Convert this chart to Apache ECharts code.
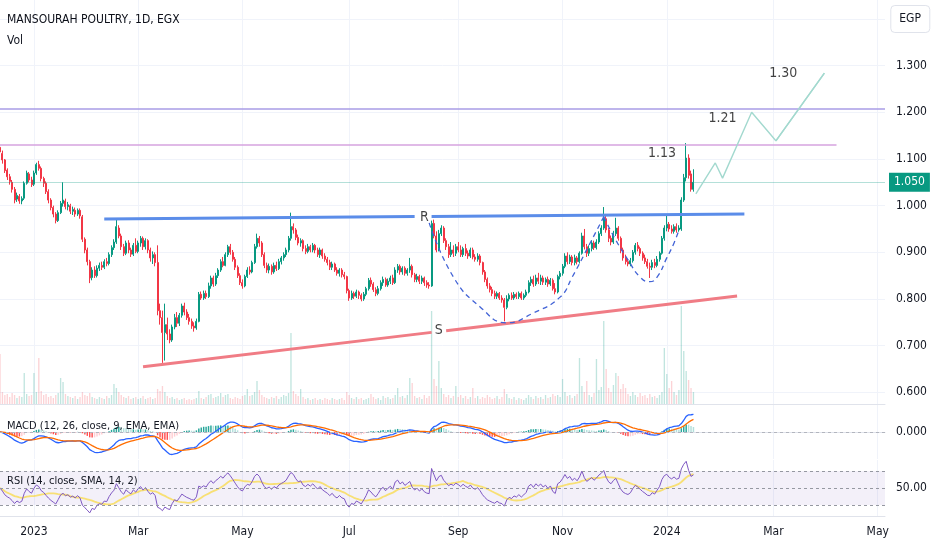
<!DOCTYPE html>
<html><head><meta charset="utf-8">
<script src="https://cdn.jsdelivr.net/npm/echarts@6/dist/echarts.min.js"></script>
<style>html,body{margin:0;padding:0;background:#fff}#c{width:932px;height:550px}</style>
</head><body><div id="c"></div>
<script>
const FONT = "'DejaVu Sans Condensed','Liberation Sans Narrow','Liberation Sans',sans-serif";
const TXT = '#131722';
// trading-day slots (Sun-Thu) starting here
const startDate = '2022-12-12';
const totalSlots = 366;
const labelMonths = [1, 3, 5, 7, 9, 11];
const monthNames = ['Jan','Feb','Mar','Apr','May','Jun','Jul','Aug','Sep','Oct','Nov','Dec'];
const priceMin = 0.6, priceMax = 1.4, priceStep = 0.1;

// daily candles: [open, close, low, high]
const ohlc = [
[1.125,1.115,1.105,1.132],[1.112,1.098,1.090,1.118],[1.098,1.075,1.070,1.100],[1.076,1.062,1.055,1.080],[1.062,1.052,1.045,1.068],
[1.050,1.035,1.028,1.055],[1.035,1.012,1.005,1.040],[1.014,1.022,1.008,1.028],[1.020,1.010,1.004,1.025],[1.010,1.015,1.003,1.020],
[1.016,1.048,1.012,1.052],[1.048,1.070,1.045,1.075],[1.068,1.055,1.050,1.072],[1.055,1.045,1.040,1.062],[1.046,1.070,1.042,1.075],
[1.070,1.088,1.066,1.092],[1.088,1.080,1.075,1.096],[1.080,1.058,1.052,1.084],[1.058,1.048,1.040,1.062],[1.048,1.030,1.025,1.052],
[1.030,1.012,1.005,1.035],[1.012,0.996,0.990,1.016],[0.996,0.982,0.975,1.000],[0.982,0.968,0.962,0.986],[0.968,0.985,0.965,0.990],
[0.985,1.005,0.982,1.010],[1.005,1.012,0.998,1.050],[1.010,0.998,0.992,1.015],[0.998,1.002,0.990,1.008],[1.000,0.988,0.982,1.004],
[0.988,0.992,0.980,0.998],[0.990,0.982,0.976,0.996],[0.982,0.990,0.978,0.994],[0.990,0.978,0.972,0.994],[0.976,0.928,0.922,0.980],
[0.928,0.905,0.898,0.932],[0.905,0.880,0.872,0.910],[0.880,0.845,0.834,0.884],[0.846,0.862,0.840,0.868],[0.862,0.850,0.845,0.870],
[0.850,0.866,0.846,0.872],[0.866,0.872,0.860,0.878],[0.872,0.868,0.862,0.880],[0.868,0.880,0.864,0.885],[0.880,0.876,0.870,0.888],
[0.876,0.895,0.872,0.900],[0.895,0.910,0.890,0.915],[0.910,0.922,0.905,0.928],[0.922,0.955,0.918,0.973],[0.952,0.935,0.930,0.958],
[0.935,0.912,0.905,0.940],[0.912,0.898,0.892,0.918],[0.898,0.920,0.894,0.925],[0.920,0.905,0.898,0.926],[0.905,0.896,0.890,0.910],
[0.896,0.915,0.892,0.920],[0.915,0.902,0.898,0.930],[0.902,0.920,0.898,0.925],[0.920,0.930,0.912,0.935],[0.930,0.912,0.905,0.934],
[0.912,0.925,0.906,0.930],[0.925,0.905,0.898,0.928],[0.905,0.888,0.880,0.910],[0.888,0.895,0.875,0.902],[0.895,0.878,0.870,0.900],
[0.878,0.775,0.765,0.915],[0.775,0.760,0.745,0.790],[0.760,0.728,0.663,0.775],[0.728,0.745,0.668,0.790],[0.745,0.725,0.712,0.760],
[0.725,0.712,0.705,0.735],[0.712,0.740,0.708,0.745],[0.740,0.760,0.735,0.768],[0.760,0.748,0.740,0.772],[0.748,0.765,0.742,0.770],
[0.765,0.785,0.760,0.790],[0.785,0.772,0.765,0.792],[0.772,0.760,0.755,0.778],[0.760,0.752,0.745,0.768],[0.752,0.742,0.736,0.758],
[0.742,0.738,0.730,0.750],[0.738,0.752,0.734,0.758],[0.752,0.810,0.750,0.815],[0.810,0.802,0.798,0.816],[0.802,0.812,0.798,0.818],
[0.812,0.805,0.800,0.818],[0.805,0.828,0.802,0.835],[0.828,0.845,0.822,0.850],[0.845,0.832,0.826,0.850],[0.832,0.850,0.828,0.856],
[0.850,0.862,0.845,0.866],[0.862,0.880,0.858,0.885],[0.880,0.872,0.868,0.890],[0.872,0.895,0.870,0.900],[0.895,0.912,0.890,0.916],
[0.912,0.900,0.895,0.918],[0.900,0.885,0.880,0.905],[0.885,0.868,0.862,0.890],[0.868,0.850,0.845,0.872],[0.850,0.835,0.830,0.855],
[0.835,0.828,0.822,0.842],[0.828,0.848,0.825,0.852],[0.848,0.862,0.845,0.868],[0.862,0.858,0.852,0.870],[0.858,0.878,0.855,0.882],
[0.878,0.912,0.875,0.918],[0.912,0.930,0.908,0.940],[0.930,0.920,0.912,0.935],[0.920,0.895,0.890,0.924],[0.895,0.872,0.866,0.900],
[0.872,0.862,0.856,0.878],[0.862,0.870,0.855,0.876],[0.870,0.858,0.852,0.874],[0.858,0.872,0.854,0.878],[0.872,0.865,0.860,0.880],
[0.865,0.880,0.862,0.886],[0.880,0.888,0.874,0.892],[0.888,0.895,0.882,0.900],[0.895,0.905,0.890,0.910],[0.905,0.930,0.900,0.935],
[0.930,0.955,0.925,0.985],[0.955,0.948,0.940,0.962],[0.948,0.932,0.926,0.952],[0.932,0.920,0.915,0.938],[0.920,0.925,0.912,0.930],
[0.925,0.908,0.902,0.928],[0.908,0.902,0.896,0.915],[0.902,0.912,0.898,0.918],[0.912,0.905,0.900,0.916],[0.905,0.915,0.900,0.920],
[0.915,0.905,0.898,0.918],[0.905,0.895,0.890,0.910],[0.895,0.905,0.888,0.910],[0.905,0.892,0.886,0.908],[0.892,0.885,0.880,0.898],
[0.885,0.878,0.872,0.890],[0.878,0.868,0.862,0.884],[0.868,0.875,0.862,0.880],[0.875,0.862,0.858,0.878],[0.862,0.855,0.850,0.868],
[0.855,0.862,0.848,0.866],[0.862,0.852,0.846,0.866],[0.852,0.848,0.842,0.858],[0.848,0.818,0.812,0.850],[0.818,0.802,0.796,0.822],
[0.802,0.812,0.798,0.818],[0.812,0.806,0.800,0.816],[0.806,0.815,0.802,0.820],[0.815,0.808,0.800,0.818],[0.808,0.800,0.795,0.812],
[0.800,0.810,0.796,0.815],[0.810,0.822,0.806,0.826],[0.822,0.840,0.818,0.845],[0.840,0.832,0.826,0.846],[0.832,0.820,0.815,0.836],
[0.820,0.812,0.806,0.825],[0.812,0.822,0.808,0.828],[0.822,0.835,0.818,0.840],[0.835,0.842,0.828,0.848],[0.842,0.830,0.826,0.846],
[0.830,0.838,0.826,0.844],[0.838,0.845,0.832,0.850],[0.845,0.835,0.830,0.852],[0.835,0.862,0.832,0.868],[0.862,0.870,0.856,0.875],
[0.870,0.858,0.852,0.874],[0.858,0.866,0.852,0.870],[0.866,0.855,0.850,0.870],[0.855,0.862,0.850,0.866],[0.862,0.870,0.856,0.888],
[0.870,0.852,0.846,0.874],[0.852,0.842,0.836,0.856],[0.842,0.848,0.836,0.854],[0.848,0.838,0.832,0.852],[0.838,0.845,0.832,0.850],
[0.845,0.835,0.828,0.848],[0.835,0.830,0.824,0.840],[0.830,0.828,0.822,0.836],[0.828,0.962,0.826,0.968],[0.962,0.935,0.930,0.970],
[0.935,0.905,0.900,0.945],[0.905,0.940,0.902,0.948],[0.940,0.952,0.935,0.958],[0.952,0.925,0.920,0.956],[0.925,0.912,0.905,0.930],
[0.912,0.895,0.888,0.918],[0.895,0.905,0.890,0.922],[0.905,0.898,0.890,0.915],[0.898,0.912,0.892,0.918],[0.912,0.905,0.900,0.922],
[0.905,0.895,0.890,0.915],[0.895,0.908,0.890,0.912],[0.908,0.898,0.892,0.918],[0.898,0.892,0.886,0.904],[0.892,0.905,0.888,0.910],
[0.905,0.890,0.885,0.910],[0.890,0.885,0.880,0.896],[0.885,0.892,0.880,0.898],[0.892,0.878,0.872,0.896],[0.878,0.858,0.852,0.880],
[0.858,0.842,0.836,0.862],[0.842,0.828,0.822,0.846],[0.828,0.820,0.814,0.834],[0.820,0.812,0.806,0.826],[0.812,0.806,0.800,0.818],
[0.806,0.812,0.800,0.816],[0.812,0.802,0.798,0.815],[0.802,0.798,0.792,0.808],[0.798,0.782,0.752,0.802],[0.782,0.800,0.778,0.808],
[0.800,0.808,0.795,0.812],[0.808,0.802,0.798,0.814],[0.802,0.810,0.798,0.815],[0.810,0.805,0.800,0.814],[0.805,0.812,0.800,0.816],
[0.812,0.802,0.798,0.816],[0.802,0.808,0.798,0.812],[0.808,0.815,0.804,0.820],[0.815,0.835,0.812,0.840],[0.835,0.842,0.828,0.848],
[0.842,0.832,0.826,0.850],[0.832,0.845,0.828,0.852],[0.845,0.838,0.832,0.856],[0.838,0.845,0.830,0.852],[0.845,0.836,0.830,0.850],
[0.836,0.842,0.830,0.846],[0.842,0.832,0.826,0.848],[0.832,0.840,0.828,0.845],[0.840,0.822,0.818,0.844],[0.822,0.815,0.810,0.834],
[0.815,0.848,0.812,0.852],[0.848,0.855,0.842,0.860],[0.855,0.870,0.850,0.875],[0.870,0.892,0.866,0.898],[0.892,0.880,0.874,0.900],
[0.880,0.890,0.875,0.895],[0.890,0.878,0.872,0.894],[0.878,0.888,0.872,0.895],[0.888,0.880,0.874,0.892],[0.880,0.898,0.876,0.902],
[0.898,0.935,0.895,0.942],[0.935,0.912,0.906,0.950],[0.912,0.898,0.890,0.918],[0.898,0.908,0.892,0.915],[0.908,0.920,0.902,0.926],
[0.920,0.910,0.905,0.925],[0.910,0.922,0.906,0.928],[0.922,0.940,0.918,0.945],[0.940,0.952,0.935,0.958],[0.952,0.972,0.948,0.997],
[0.972,0.948,0.942,0.978],[0.948,0.930,0.922,0.952],[0.930,0.922,0.915,0.936],[0.922,0.940,0.918,0.946],[0.940,0.952,0.935,0.974],
[0.952,0.930,0.925,0.956],[0.930,0.905,0.898,0.934],[0.905,0.888,0.882,0.910],[0.888,0.880,0.874,0.895],[0.880,0.875,0.870,0.886],
[0.875,0.882,0.870,0.888],[0.882,0.900,0.878,0.905],[0.900,0.915,0.895,0.920],[0.915,0.908,0.902,0.922],[0.908,0.898,0.892,0.912],
[0.898,0.888,0.882,0.902],[0.888,0.880,0.875,0.895],[0.880,0.870,0.865,0.886],[0.870,0.868,0.845,0.878],[0.868,0.878,0.862,0.884],
[0.878,0.872,0.866,0.886],[0.872,0.885,0.868,0.892],[0.885,0.898,0.880,0.902],[0.898,0.930,0.895,0.935],[0.930,0.952,0.925,0.958],
[0.952,0.960,0.945,0.980],[0.960,0.950,0.944,0.965],[0.950,0.945,0.940,0.958],[0.945,0.955,0.940,0.960],[0.955,0.948,0.942,0.962],
[0.948,0.952,0.944,0.958],[0.950,1.012,0.946,1.018],[1.012,1.060,1.008,1.068],[1.060,1.102,1.052,1.134],[1.102,1.065,1.058,1.110],
[1.068,1.035,1.030,1.075],[1.035,1.050,1.030,1.078]
];

// daily volume, millions of shares
const volume = [
5.0,1.2,0.9,1.0,0.7,1.1,0.9,0.6,0.8,0.7, 3.1,1.0,0.8,0.9,3.1,1.2,4.6,1.3,0.9,1.0,
0.7,0.8,0.6,0.9,1.1,2.6,2.2,1.0,0.8,0.7, 0.6,0.8,0.5,0.7,1.2,0.9,0.8,1.1,0.7,0.6,
0.5,0.7,0.6,0.5,0.8,0.6,0.9,2.0,1.6,1.2, 0.9,0.7,0.6,0.8,0.5,0.6,0.7,0.5,0.6,0.8,
0.5,0.6,0.7,0.5,0.6,1.5,1.3,1.8,1.2,0.8, 0.6,0.7,0.5,0.6,0.4,0.5,0.6,0.4,0.5,0.4,
0.5,0.6,1.3,0.6,0.5,0.7,0.9,1.0,0.6,0.7, 0.8,1.1,0.7,0.9,1.0,0.6,0.5,0.7,0.6,0.5,
0.8,0.9,1.5,0.8,0.9,1.2,2.3,1.4,0.9,0.7, 0.6,0.5,0.7,0.6,0.8,0.5,0.7,0.9,0.8,1.1,
7.1,1.3,1.0,0.8,1.5,0.7,0.5,0.6,0.4,0.5, 0.6,0.4,0.5,0.4,0.6,0.5,0.4,0.6,0.5,0.4,
0.5,0.6,0.4,1.2,0.9,0.6,0.5,0.7,0.5,0.6, 0.4,0.5,0.6,1.0,0.7,0.5,0.6,0.4,0.8,0.6,
0.7,0.5,0.6,0.9,1.6,0.7,0.8,0.6,0.9,2.6, 2.1,0.8,0.6,0.7,0.5,0.9,0.6,0.8,9.3,2.5,
1.8,4.3,1.6,1.0,0.7,0.9,0.6,0.8,1.8,0.7, 0.9,0.6,0.8,0.5,0.7,1.6,0.6,0.8,0.5,0.7,
0.6,0.9,0.7,0.5,0.6,0.8,0.5,0.7,1.5,1.0, 0.6,0.5,0.7,0.4,0.6,0.5,0.4,0.6,0.9,0.7,
0.5,0.8,0.6,0.7,0.5,0.9,0.6,0.7,1.0,0.8, 0.9,0.7,2.5,1.2,0.8,0.9,0.6,0.8,1.0,4.6,
1.8,1.2,2.3,0.9,0.7,1.1,4.5,1.4,1.7,8.3, 3.5,1.6,1.2,1.9,3.1,2.8,1.5,2.0,1.6,1.0,
0.8,1.2,0.9,0.7,1.1,0.8,0.9,0.6,1.0,0.7, 0.8,0.6,0.9,1.2,5.6,3.0,1.6,2.3,1.2,0.9,
1.4,9.8,5.3,3.3,2.4,1.6,1.2
];

// drawn levels and annotations: [slot index, price]
const lastPrice = 1.05;
const level113 = [[0, 1.13], [345, 1.13]];
const level121 = [[0, 1.207], [365, 1.207]];
const resistanceA = [[43, 0.9715], [171, 0.9767]];
const resistanceB = [[178, 0.977], [307, 0.9822]];
const supportA = [[59, 0.6546], [178, 0.7284]];
const supportB = [[184, 0.7321], [304, 0.8065]];
const cupA = [[177,0.963],[187,0.847],[198,0.783],[209,0.749],[220,0.770],[231,0.804],[236,0.847],[243,0.916],[249,0.976]];
const cupB = [[249,0.976],[254,0.926],[259,0.884],[264,0.847],[268,0.837],[271,0.847],[275,0.888],[278,0.920],[280,0.948]];
const projection = [[287,1.025],[295,1.0915],[298,1.059],[310,1.20],[320,1.139],[340,1.284]];
const noteText = ['R', 'S', '1.13', '1.21', '1.30'];
const noteX = [175, 181, 273, 298, 323];
const noteY = [0.9758, 0.7336, 1.113, 1.187, 1.283];

// ---- build ----
const dates = [];
{ const d = new Date(startDate + 'T00:00:00Z');
  while (dates.length < totalSlots) { if (d.getUTCDay() <= 4) dates.push(d.toISOString().slice(0,10)); d.setUTCDate(d.getUTCDate()+1); } }
const mon = i => +dates[i].slice(5,7);
const isTick = i => i > 0 && mon(i) !== mon(i-1) && labelMonths.includes(mon(i));
const fmtX = v => { const m = +v.slice(5,7); return m === 1 ? v.slice(0,4) : monthNames[m-1]; };

const closes = ohlc.map(d => d[1]);
function ema(src, n) { const k = 2/(n+1); const out = []; let e = src[0]; for (const v of src) { e = v*k + e*(1-k); out.push(e); } return out; }
const e12 = ema(closes, 12), e26 = ema(closes, 26);
const macd = e12.map((v,i) => v - e26[i]);
const signal = ema(macd, 9);
const hist = macd.map((v,i) => v - signal[i]);
const histData = hist.map((h,i) => { const p = i ? hist[i-1] : h; let c;
  if (h >= 0) c = h >= p ? '#26a69a' : '#b2dfdb'; else c = h <= p ? '#ff5252' : '#ffcdd2';
  return { value: h, itemStyle: { color: c } }; });
const M = Math.max(...macd.map(Math.abs), ...signal.map(Math.abs)) * 1.2;

const chg = closes.map((v,i) => i ? v - closes[i-1] : 0);
let seed = 0; for (let i = 1; i <= 14; i++) seed += Math.abs(chg[i]); seed /= 28;
let ag = seed, al = seed; const rsi = [50];
for (let i = 1; i < closes.length; i++) { const c = chg[i]; ag = (ag*13 + Math.max(c,0))/14; al = (al*13 + Math.max(-c,0))/14; rsi.push(al === 0 ? 100 : 100 - 100/(1 + ag/al)); }
const rsiSma = rsi.map((v,i) => { const s = rsi.slice(Math.max(0, i-13), i+1); return s.reduce((a,b) => a+b, 0)/s.length; });

const volData = volume.map((v,i) => ({ value: v, itemStyle: { color: ohlc[i][1] >= ohlc[i][0] ? 'rgba(8,153,129,0.25)' : 'rgba(242,54,69,0.22)' } }));

const GRID_R = 47;
const baseX = (gi, extra) => Object.assign({ type: 'category', data: dates, gridIndex: gi, boundaryGap: false,
  axisLine: { show: false }, axisTick: { show: false }, axisLabel: { show: false }, splitLine: { show: false } }, extra || {});
const vsplit = { show: true, interval: (i) => isTick(i), lineStyle: { color: '#f0f3fa', width: 1 } };
const sepLine = { show: true, lineStyle: { color: '#e0e3eb', width: 1 } };

const lineS = (data, color, width, extra) => Object.assign({ type: 'line', xAxisIndex: 0, yAxisIndex: 0, data, symbol: 'none', silent: true,
  lineStyle: { color, width }, z: 5, animation: false }, extra || {});

const chart = echarts.init(document.getElementById('c'), null, { renderer: 'canvas' });
chart.setOption({
  animation: false,
  backgroundColor: '#ffffff',
  textStyle: { fontFamily: FONT },
  title: [
    { text: 'MANSOURAH POULTRY, 1D, EGX', left: 7, top: 14, padding: 0, textStyle: { fontFamily: FONT, fontSize: 12, fontWeight: 'normal', color: '#0b0e17' } },
    { text: 'Vol', left: 7, top: 35, padding: 0, textStyle: { fontFamily: FONT, fontSize: 12, fontWeight: 'normal', color: TXT } },
    { text: 'MACD (12, 26, close, 9, EMA, EMA)', left: 7, top: 421, padding: 0, textStyle: { fontFamily: FONT, fontSize: 11, fontWeight: 'normal', color: TXT } },
    { text: 'RSI (14, close, SMA, 14, 2)', left: 7, top: 476, padding: 0, textStyle: { fontFamily: FONT, fontSize: 11, fontWeight: 'normal', color: TXT } },
    { text: 'EGP', right: 2, top: 5, padding: [8, 9], borderColor: '#e0e3eb', borderWidth: 1, borderRadius: 4, backgroundColor: '#fff',
      textStyle: { fontFamily: FONT, fontSize: 12, fontWeight: 'normal', color: TXT } }
  ],
  grid: [
    { left: 0, right: GRID_R, top: 19, height: 373.3 },
    { left: 0, right: GRID_R, top: 405, height: 54 },
    { left: 0, right: GRID_R, top: 460, height: 56 },
    { left: 0, right: GRID_R, top: 0, height: 404 }
  ],
  xAxis: [
    baseX(0),
    baseX(1, { axisLine: sepLine, splitLine: vsplit }),
    baseX(2, { axisLine: sepLine, splitLine: vsplit,
      axisLabel: { show: true, interval: (i) => isTick(i), formatter: fmtX, color: TXT, fontSize: 12, fontFamily: FONT, margin: 10 } }),
    baseX(3, { axisLine: sepLine, splitLine: vsplit })
  ],
  yAxis: [
    { type: 'value', gridIndex: 0, position: 'right', min: priceMin, max: priceMax, interval: priceStep,
      axisLine: { show: false }, axisTick: { show: false },
      axisLabel: { color: TXT, fontSize: 12, fontFamily: FONT, margin: 11, showMaxLabel: false, formatter: v => v.toFixed(3) },
      splitLine: { show: true, lineStyle: { color: '#f0f3fa' } } },
    { type: 'value', gridIndex: 1, position: 'right', min: -M, max: M, interval: M,
      axisLine: { show: false }, axisTick: { show: false }, splitLine: { show: false },
      axisLabel: { color: TXT, fontSize: 12, fontFamily: FONT, margin: 11, showMinLabel: false, showMaxLabel: false,
        formatter: v => Math.abs(v) < 1e-9 ? '0.000' : v.toFixed(3) } },
    { type: 'value', gridIndex: 2, position: 'right', min: 17, max: 83, interval: 33,
      axisLine: { show: false }, axisTick: { show: false }, splitLine: { show: false },
      axisLabel: { color: TXT, fontSize: 12, fontFamily: FONT, margin: 11, showMinLabel: false, showMaxLabel: false,
        formatter: v => v.toFixed(2) } },
    { type: 'value', gridIndex: 3, min: 0, max: 40.4, show: false }
  ],
  series: [
    { type: 'bar', name: 'Vol', xAxisIndex: 3, yAxisIndex: 3, data: volData, barWidth: '55%', silent: true, z: 1 },
    { type: 'candlestick', xAxisIndex: 0, yAxisIndex: 0, data: ohlc, barWidth: '62%', z: 3,
      itemStyle: { color: '#089981', color0: '#f23645', borderColor: '#089981', borderColor0: '#f23645', borderWidth: 1 },
      markLine: { silent: true, symbol: 'none', animation: false,
        lineStyle: { color: 'rgba(8,153,129,0.3)', type: 'solid', width: 1 },
        label: { show: true, position: 'end', distance: 4, formatter: () => lastPrice.toFixed(3), color: '#fff', backgroundColor: '#089981',
          padding: [4, 5, 3, 5], fontSize: 12, fontFamily: FONT },
        data: [{ yAxis: lastPrice }] } },
    lineS(level113, '#d6a3df', 1.5),
    lineS(level121, '#a99ce6', 1.5),
    lineS(resistanceA, '#5b8de9', 3),
    lineS(resistanceB, '#5b8de9', 3),
    lineS(supportA, '#f07c85', 3),
    lineS(supportB, '#f07c85', 3),
    lineS(cupA, '#4263d6', 1.3, { smooth: true, lineStyle: { color: '#4263d6', width: 1.3, type: [5, 4] } }),
    lineS(cupB, '#4263d6', 1.3, { smooth: true, lineStyle: { color: '#4263d6', width: 1.3, type: [5, 4] } }),
    lineS(projection, '#a3d9cf', 1.4, {
      markLine: { silent: true, symbol: ['none', 'arrow'], symbolSize: [0, 9], animation: false,
        lineStyle: { color: '#a3d9cf', width: 1.4, type: 'solid' }, label: { show: false },
        data: [[{ coord: projection[projection.length-2] }, { coord: projection[projection.length-1] }]] } }),
    { type: 'scatter', xAxisIndex: 0, yAxisIndex: 0, symbolSize: 0, silent: true, z: 6,
      data: noteText.map((t,i) => ({ name: t, value: [noteX[i], noteY[i]] })),
      label: { show: true, position: 'inside', formatter: p => p.name, color: '#111', fontSize: 14, fontFamily: FONT } },
    { type: 'bar', xAxisIndex: 1, yAxisIndex: 1, data: histData, barWidth: '60%', silent: true,
      markLine: { silent: true, symbol: 'none', label: { show: false }, lineStyle: { color: '#b2b5be', type: [3, 3], width: 1 }, data: [{ yAxis: 0 }] } },
    { type: 'line', xAxisIndex: 1, yAxisIndex: 1, data: macd, symbol: 'none', silent: true, lineStyle: { color: '#2962ff', width: 1.3 } },
    { type: 'line', xAxisIndex: 1, yAxisIndex: 1, data: signal, symbol: 'none', silent: true, lineStyle: { color: '#ff6d00', width: 1.3 } },
    { type: 'line', xAxisIndex: 2, yAxisIndex: 2, data: rsiSma, symbol: 'none', silent: true, lineStyle: { color: 'rgba(250,216,60,0.7)', width: 1.8 } },
    { type: 'line', xAxisIndex: 2, yAxisIndex: 2, data: rsi, symbol: 'none', silent: true, z: 4, lineStyle: { color: '#7e57c2', width: 1 },
      markArea: { silent: true, itemStyle: { color: 'rgba(126,87,194,0.09)' }, data: [[{ yAxis: 30 }, { yAxis: 70 }]] },
      markLine: { silent: true, symbol: 'none', label: { show: false }, data: [{ yAxis: 70 }, { yAxis: 50 }, { yAxis: 30 }],
        lineStyle: { color: '#9598a1', type: [3, 3], width: 1 } } }
  ]
});
</script></body></html>
